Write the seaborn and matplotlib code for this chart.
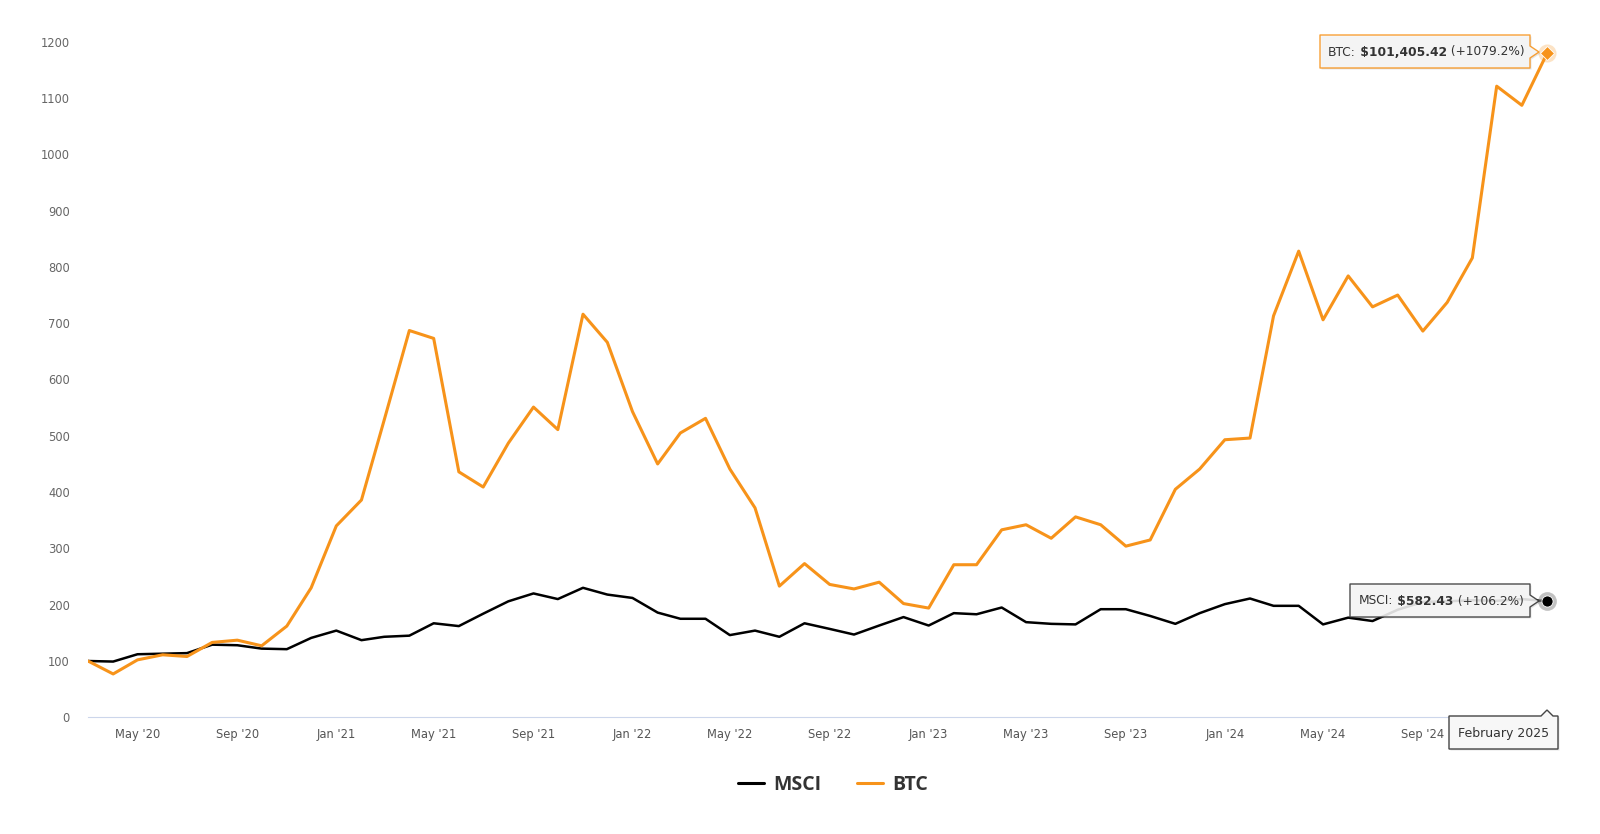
import matplotlib
matplotlib.use("Agg")
import matplotlib.pyplot as plt
import matplotlib.dates as mdates
from matplotlib.patches import Polygon
from matplotlib.lines import Line2D
from matplotlib.text import Annotation
from matplotlib.ticker import FuncFormatter
import seaborn as sns
import pandas as pd

# ---------------- data ----------------
dates = pd.date_range("2020-03-01", periods=60, freq="MS")

msci = [100, 99, 112, 113, 114, 129, 128, 122, 121, 141,
        154, 137, 143, 145, 167, 162, 184, 206, 220, 210,
        230, 218, 212, 186, 175, 175, 146, 154, 143, 167,
        157, 147, 163, 178, 163, 185, 183, 195, 169, 166,
        165, 192, 192, 180, 166, 185, 201, 211, 198, 198,
        165, 177, 171, 191, 205, 206, 208, 207, 210, 206.2]

btc = [100, 77, 102, 111, 108, 133, 137, 127, 162, 230,
       340, 386, 528, 687, 673, 436, 409, 487, 551, 511,
       716, 666, 543, 450, 505, 531, 441, 372, 233, 273,
       236, 228, 240, 202, 194, 271, 271, 333, 342, 318,
       356, 342, 304, 315, 405, 441, 493, 496, 713, 828,
       706, 784, 729, 750, 686, 737, 816, 1121, 1087, 1179.2]

series_names = ["MSCI", "BTC"]
series_colors = {"MSCI": "#000000", "BTC": "#f7931a"}
tooltip_values = {"MSCI": "$582.43", "BTC": "$101,405.42"}
tooltip_pct = {"MSCI": "(+106.2%)", "BTC": "(+1079.2%)"}
last_label = "February 2025"
y_ticks = list(range(0, 1300, 100))

df = pd.DataFrame({
    "date": list(dates) * 2,
    "value": msci + btc,
    "series": ["MSCI"] * len(msci) + ["BTC"] * len(btc),
})

# ---------------- figure ----------------
W, H = 1600, 834
sns.set_theme(style="white")
plt.rcParams["font.family"] = ["DejaVu Sans"]

fig = plt.figure(figsize=(W / 100, H / 100), dpi=100)
fig.patch.set_facecolor("white")


def F(x, y):
    return (x / W, 1 - y / H)


ax_left, ax_right, ax_top, ax_bottom = 88, 1547, 41.7, 717.3
ax = fig.add_axes([ax_left / W, 1 - ax_bottom / H,
                   (ax_right - ax_left) / W, (ax_bottom - ax_top) / H])
ax.set_facecolor("white")

sns.lineplot(data=df[df.series == "MSCI"], x="date", y="value",
             color=series_colors["MSCI"], linewidth=1.8, ax=ax,
             legend=False, zorder=3)
sns.lineplot(data=df[df.series == "BTC"], x="date", y="value",
             color=series_colors["BTC"], linewidth=2.2, ax=ax,
             legend=False, zorder=4)

ax.set_xlim(dates[0], dates[-1])
ax.set_ylim(0, 1200)
ax.set_xlabel("")
ax.set_ylabel("")
ax.set_yticks(y_ticks)
ax.tick_params(axis="y", length=0, pad=13, labelsize=8.3, labelcolor="#666666")
ax.xaxis.set_major_locator(mdates.MonthLocator(bymonth=[1, 5, 9]))


def xfmt(v, pos):
    d = mdates.num2date(v)
    if d.year >= 2025:  # hidden under the crosshair label in the reference
        return ""
    return d.strftime("%b '%y")


ax.xaxis.set_major_formatter(FuncFormatter(xfmt))
ax.tick_params(axis="x", length=7, width=0.8, color="#ccd6eb", pad=1,
               labelsize=8.3, labelcolor="#555555")
ax.grid(False)
for s in ["top", "right", "left"]:
    ax.spines[s].set_visible(False)
ax.spines["bottom"].set_color("#ccd6eb")
ax.spines["bottom"].set_linewidth(0.8)

# ---------------- end markers ----------------
ax.plot(dates[-1], btc[-1], "o", ms=13, color=series_colors["BTC"], alpha=0.25,
        mec="none", clip_on=False, zorder=6)
ax.plot(dates[-1], btc[-1], "D", ms=7, color=series_colors["BTC"],
        mec="white", mew=0.6, clip_on=False, zorder=7)
ax.plot(dates[-1], msci[-1], "o", ms=13.5, color="#9a9a9a", alpha=0.6,
        mec="none", clip_on=False, zorder=6)
ax.plot(dates[-1], msci[-1], "o", ms=8, color="#000000",
        mec="white", mew=0.6, clip_on=False, zorder=7)


# ---------------- tooltips ----------------
def callout_right(l, r, t, b, cy, tip, edge):
    pts = [(l, t), (r, t), (r, cy - 6), (tip, cy), (r, cy + 6), (r, b), (l, b)]
    sh = Polygon([F(x + 1.5, y + 1.5) for x, y in pts], closed=True,
                 transform=fig.transFigure, facecolor="#000000", alpha=0.10,
                 edgecolor="none", zorder=8)
    fig.add_artist(sh)
    p = Polygon([F(x, y) for x, y in pts], closed=True, transform=fig.transFigure,
                facecolor="#f7f7f7", alpha=0.88, edgecolor=edge, linewidth=1.0,
                zorder=9, joinstyle="round")
    fig.add_artist(p)


def tip_text(x, y, name, val, pct, fs=8.8):
    t1 = fig.text(*F(x, y), name + ":", ha="left", va="center", fontsize=fs,
                  color="#333333", zorder=10)
    t2 = Annotation(" " + val.replace("$", r"\$"), xy=(1, 0.5), xycoords=t1,
                    ha="left", va="center", fontsize=fs, fontweight="bold",
                    color="#333333", annotation_clip=False, zorder=10)
    fig.add_artist(t2)
    t3 = Annotation(" " + pct, xy=(1, 0.5), xycoords=t2, ha="left", va="center",
                    fontsize=fs, color="#333333", annotation_clip=False, zorder=10)
    fig.add_artist(t3)


callout_right(1320, 1530, 35, 68, 52, 1539, series_colors["BTC"])
tip_text(1328, 52, "BTC", tooltip_values["BTC"], tooltip_pct["BTC"])

callout_right(1350, 1530, 584, 617, 601, 1539, "#333333")
tip_text(1359, 601, "MSCI", tooltip_values["MSCI"], tooltip_pct["MSCI"])

# x crosshair label
lp = [(1449, 716), (1541, 716), (1547, 710), (1553, 716), (1558, 716),
      (1558, 749), (1449, 749)]
fig.add_artist(Polygon([F(x + 1.5, y + 1.5) for x, y in lp], closed=True,
                       transform=fig.transFigure, facecolor="#000000",
                       alpha=0.10, edgecolor="none", zorder=8))
fig.add_artist(Polygon([F(x, y) for x, y in lp], closed=True,
                       transform=fig.transFigure, facecolor="#f7f7f7",
                       edgecolor="#444444", linewidth=1.0, zorder=9))
fig.text(*F(1503.5, 733), last_label, ha="center", va="center", fontsize=9,
         color="#333333", zorder=10)

# ---------------- legend ----------------
handles = [Line2D([0], [0], color=series_colors[n], lw=2.2) for n in series_names]
leg = fig.legend(handles, series_names, loc="center", bbox_to_anchor=F(833, 785),
                 ncol=2, frameon=False, handlelength=1.35, handletextpad=0.5,
                 columnspacing=1.8,
                 prop={"family": "Open Sans", "weight": "bold", "size": 14})
for t in leg.get_texts():
    t.set_color("#333333")

fig.savefig("out.png", dpi=100, facecolor="white")
